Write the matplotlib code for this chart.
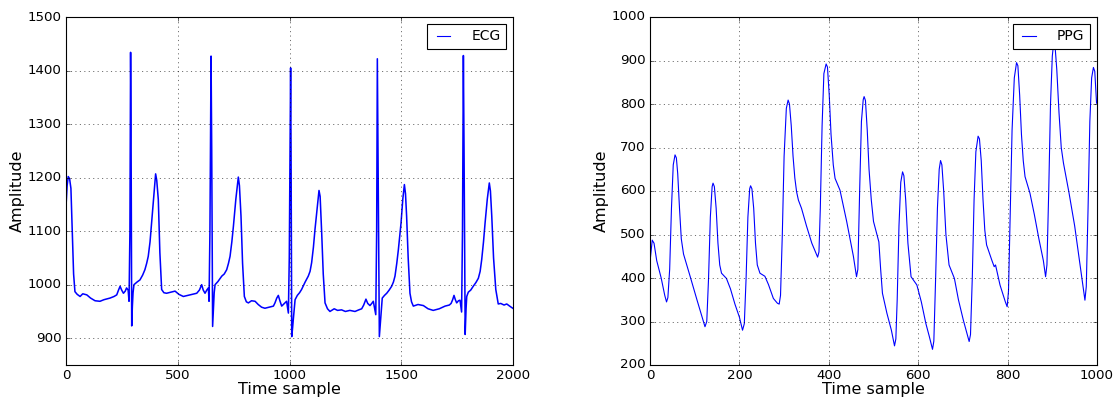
import numpy as np
import matplotlib
matplotlib.use("Agg")
import matplotlib.pyplot as plt

plt.style.use("classic")

# ECG: (time sample, amplitude)
ecg_t = [0, 5, 10, 16, 22, 28, 34, 40, 50, 63, 75, 93, 110, 130, 152, 170, 197, 215, 227, 235,
         242, 249, 257, 265, 271, 278, 282, 286, 289, 291, 294, 297, 300, 304, 318, 331, 343, 353, 361, 368,
         376, 383, 392, 401, 406, 413, 420, 428, 438, 450, 470, 488, 505, 525, 545, 565, 585, 597, 607, 614,
         622, 630, 637, 640, 644, 649, 652, 656, 659, 663, 667, 680, 697, 708, 719, 727, 734, 742, 749, 760,
         771, 776, 783, 790, 798, 807, 816, 830, 846, 860, 875, 890, 910, 928, 935, 943, 950, 957, 965, 975,
         987, 995, 999, 1005, 1007, 1010, 1014, 1017, 1025, 1035, 1045, 1054, 1070, 1084, 1092, 1099, 1107, 1114, 1123, 1132,
         1137, 1144, 1151, 1159, 1170, 1181, 1200, 1215, 1233, 1250, 1270, 1293, 1310, 1323, 1332, 1342, 1350, 1360, 1368, 1375,
         1386, 1390, 1393, 1396, 1402, 1405, 1409, 1415, 1425, 1435, 1446, 1457, 1465, 1472, 1480, 1487, 1493, 1499, 1507, 1514,
         1519, 1524, 1531, 1539, 1546, 1554, 1575, 1599, 1620, 1643, 1670, 1696, 1715, 1723, 1730, 1736, 1742, 1748, 1756, 1763,
         1770, 1774, 1778, 1781, 1786, 1790, 1793, 1800, 1811, 1822, 1834, 1845, 1853, 1860, 1868, 1875, 1885, 1894, 1899, 1905,
         1913, 1923, 1934, 1945, 1960, 1972, 1985, 1999]
ecg_v = [1146, 1185, 1202, 1198, 1180, 1100, 1020, 987, 982, 978, 983, 981, 975, 970, 969, 972, 975, 978, 981, 990,
         997, 990, 984, 988, 994, 990, 969, 1100, 1434, 1300, 923, 960, 985, 1000, 1005, 1009, 1018, 1028, 1040, 1053,
         1080, 1115, 1160, 1207, 1195, 1159, 1060, 991, 985, 984, 986, 988, 982, 978, 980, 982, 984, 990, 1000, 990,
         984, 990, 994, 969, 1100, 1427, 1250, 922, 950, 985, 1000, 1006, 1016, 1020, 1028, 1040, 1053, 1080, 1109, 1160,
         1201, 1185, 1128, 1040, 978, 968, 966, 970, 969, 963, 958, 956, 958, 960, 966, 975, 980, 970, 960, 964,
         969, 947, 1050, 1405, 1250, 903, 920, 935, 972, 980, 985, 991, 1005, 1016, 1025, 1041, 1070, 1103, 1140, 1176,
         1165, 1097, 1020, 966, 955, 950, 955, 952, 953, 950, 952, 950, 953, 955, 962, 973, 965, 961, 965, 969,
         944, 1100, 1422, 1250, 903, 920, 941, 975, 980, 984, 990, 997, 1005, 1016, 1040, 1065, 1090, 1115, 1160, 1187,
         1170, 1128, 1050, 984, 968, 960, 963, 961, 955, 952, 955, 960, 962, 965, 972, 980, 972, 966, 970, 971,
         949, 1100, 1428, 1250, 907, 955, 978, 986, 990, 997, 1004, 1012, 1025, 1047, 1080, 1115, 1160, 1190, 1175, 1128,
         1050, 991, 964, 965, 962, 964, 960, 956]

# PPG: (time sample, amplitude)
ppg_t = [0, 5, 9, 15, 25, 33, 37, 40, 44, 48, 52, 56, 59, 62, 66, 70, 75, 90, 105, 118,
         123, 127, 131, 135, 139, 141, 144, 148, 152, 156, 160, 171, 180, 190, 200, 207, 211, 215, 219, 223,
         225, 228, 232, 236, 240, 246, 257, 265, 276, 285, 289, 292, 296, 300, 305, 309, 312, 316, 320, 324,
         328, 332, 339, 350, 362, 375, 378, 381, 385, 389, 394, 397, 401, 405, 410, 414, 425, 440, 455, 462,
         465, 469, 473, 477, 479, 482, 486, 490, 495, 500, 512, 516, 520, 530, 540, 547, 550, 553, 557, 561,
         565, 568, 572, 577, 584, 597, 607, 617, 625, 632, 635, 639, 643, 647, 650, 653, 657, 662, 669, 681,
         690, 701, 714, 717, 721, 725, 729, 734, 737, 741, 745, 749, 753, 765, 770, 773, 783, 795, 799, 802,
         806, 810, 815, 820, 823, 827, 831, 835, 839, 850, 860, 870, 880, 885, 888, 892, 896, 900, 903, 906,
         910, 915, 920, 925, 937, 950, 962, 970, 973, 976, 980, 984, 988, 992, 995, 999]
ppg_v = [437, 487, 480, 440, 400, 360, 345, 355, 420, 560, 660, 683, 676, 640, 560, 490, 455, 403, 350, 305,
         288, 300, 400, 540, 610, 618, 610, 560, 480, 430, 411, 399, 375, 340, 310, 280, 295, 400, 540, 605,
         612, 605, 560, 480, 430, 411, 404, 385, 353, 342, 340, 360, 500, 680, 790, 809, 800, 750, 680, 630,
         598, 579, 560, 520, 480, 448, 460, 560, 750, 870, 892, 885, 820, 730, 660, 629, 602, 530, 450, 403,
         420, 600, 760, 810, 817, 808, 740, 650, 580, 530, 483, 420, 365, 319, 280, 244, 260, 350, 520, 620,
         644, 635, 580, 480, 403, 384, 345, 296, 265, 236, 255, 400, 560, 650, 670, 660, 600, 500, 430, 399,
         350, 303, 254, 270, 400, 580, 690, 726, 720, 670, 580, 510, 476, 440, 426, 430, 384, 345, 334, 370,
         550, 740, 860, 895, 888, 820, 730, 670, 633, 595, 545, 490, 440, 403, 430, 600, 800, 910, 940, 935,
         880, 780, 700, 664, 598, 520, 430, 370, 349, 380, 560, 760, 860, 884, 875, 802]

# old-style figure: 80 dpi, so 12pt text comes out small
fig = plt.figure(figsize=(1118 / 80, 400 / 80), dpi=80, facecolor="white")
ax1 = fig.add_axes([66 / 1118, 35 / 400, 447 / 1118, 348 / 400])
ax2 = fig.add_axes([650 / 1118, 35 / 400, 447 / 1118, 348 / 400])

ax1.plot(ecg_t, ecg_v, color="b", lw=1.4, label="ECG")
ax1.set_xlim(0, 2000)
ax1.set_ylim(850, 1500)
ax1.set_xticks([0, 500, 1000, 1500, 2000])
ax1.set_yticks([900, 1000, 1100, 1200, 1300, 1400, 1500])

ax2.plot(ppg_t, ppg_v, color="b", lw=1.0, label="PPG")
ax2.set_xlim(0, 1000)
ax2.set_ylim(200, 1000)

for ax in (ax1, ax2):
    ax.grid(True)
    ax.set_xlabel("Time sample", fontsize=14.4, labelpad=0)
    ax.set_ylabel("Amplitude", fontsize=14.4, labelpad=2)
    leg = ax.legend(loc="upper right", fontsize=12.5, handlelength=1.6, handletextpad=1.2)
    leg.get_lines()[0].set_linewidth(1.0)

fig.savefig("out.png", dpi=80, facecolor="white")
